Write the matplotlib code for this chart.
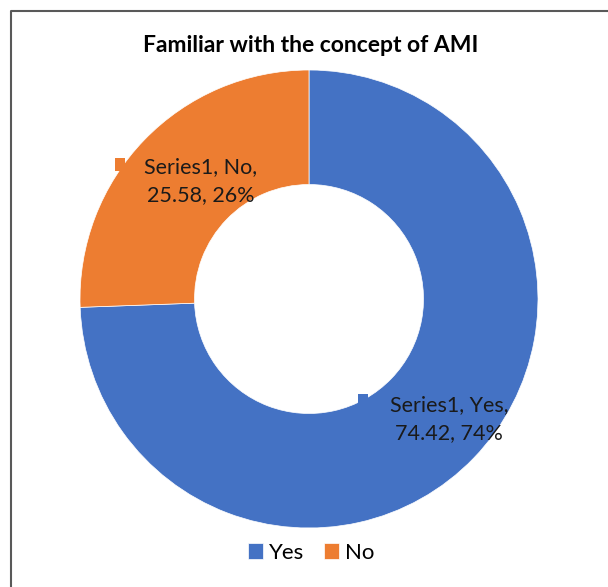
import matplotlib.pyplot as plt
from matplotlib.patches import Rectangle

plt.rcParams['font.family'] = ['Lato', 'DejaVu Sans']

# data
categories = ['Yes', 'No']
values = [74.42, 25.58]
percents = ['74%', '26%']
colors = ['#4472C4', '#ED7D31']

W, H = 608, 587
fig = plt.figure(figsize=(W / 100, H / 100), dpi=100)
ax = fig.add_axes([0, 0, 1, 1])

# donut, starting at 12 o'clock and running clockwise like Excel
cx, cy, r = 309, H - 299, 229
wedges, _ = ax.pie(values, colors=colors, startangle=90, counterclock=False,
                   center=(cx, cy), radius=r, frame=True,
                   wedgeprops=dict(width=r * 0.5, edgecolor='white', linewidth=0.5))
ax.set_xlim(0, W)
ax.set_ylim(0, H)
ax.set_aspect('equal')
ax.axis('off')

# chart border (only top and left visible in the crop)
ax.plot([11, 11, W + 5], [-5, H - 11, H - 11], color='#595959', lw=1.5, clip_on=False)

ax.text(cx + 2, H - 46, 'Familiar with the concept of AMI', ha='center', va='center',
        fontsize=16.5, fontweight='bold', color='black')

# data labels with legend keys
label_pos = {'Yes': (449, 419), 'No': (201, 181)}
key_pos = {'Yes': (358, 394), 'No': (115, 158)}
for cat, v, p, c in zip(categories, values, percents, colors):
    x, y = label_pos[cat]
    ax.text(x, H - y, f'Series1, {cat},\n{v}, {p}', ha='center', va='center',
            fontsize=15.5, color='#1a1a1a', linespacing=1.45)
    kx, ky = key_pos[cat]
    ax.add_patch(Rectangle((kx, H - ky - 13), 10, 13, color=c, lw=0))

# legend
leg = fig.legend(wedges, categories, loc='center', bbox_to_anchor=(311 / W, 1 - 553 / H),
                 ncol=2, frameon=False, fontsize=16, handlelength=0.7, handleheight=0.7,
                 handletextpad=0.25, columnspacing=0.9)

fig.savefig('out.png', dpi=100)
